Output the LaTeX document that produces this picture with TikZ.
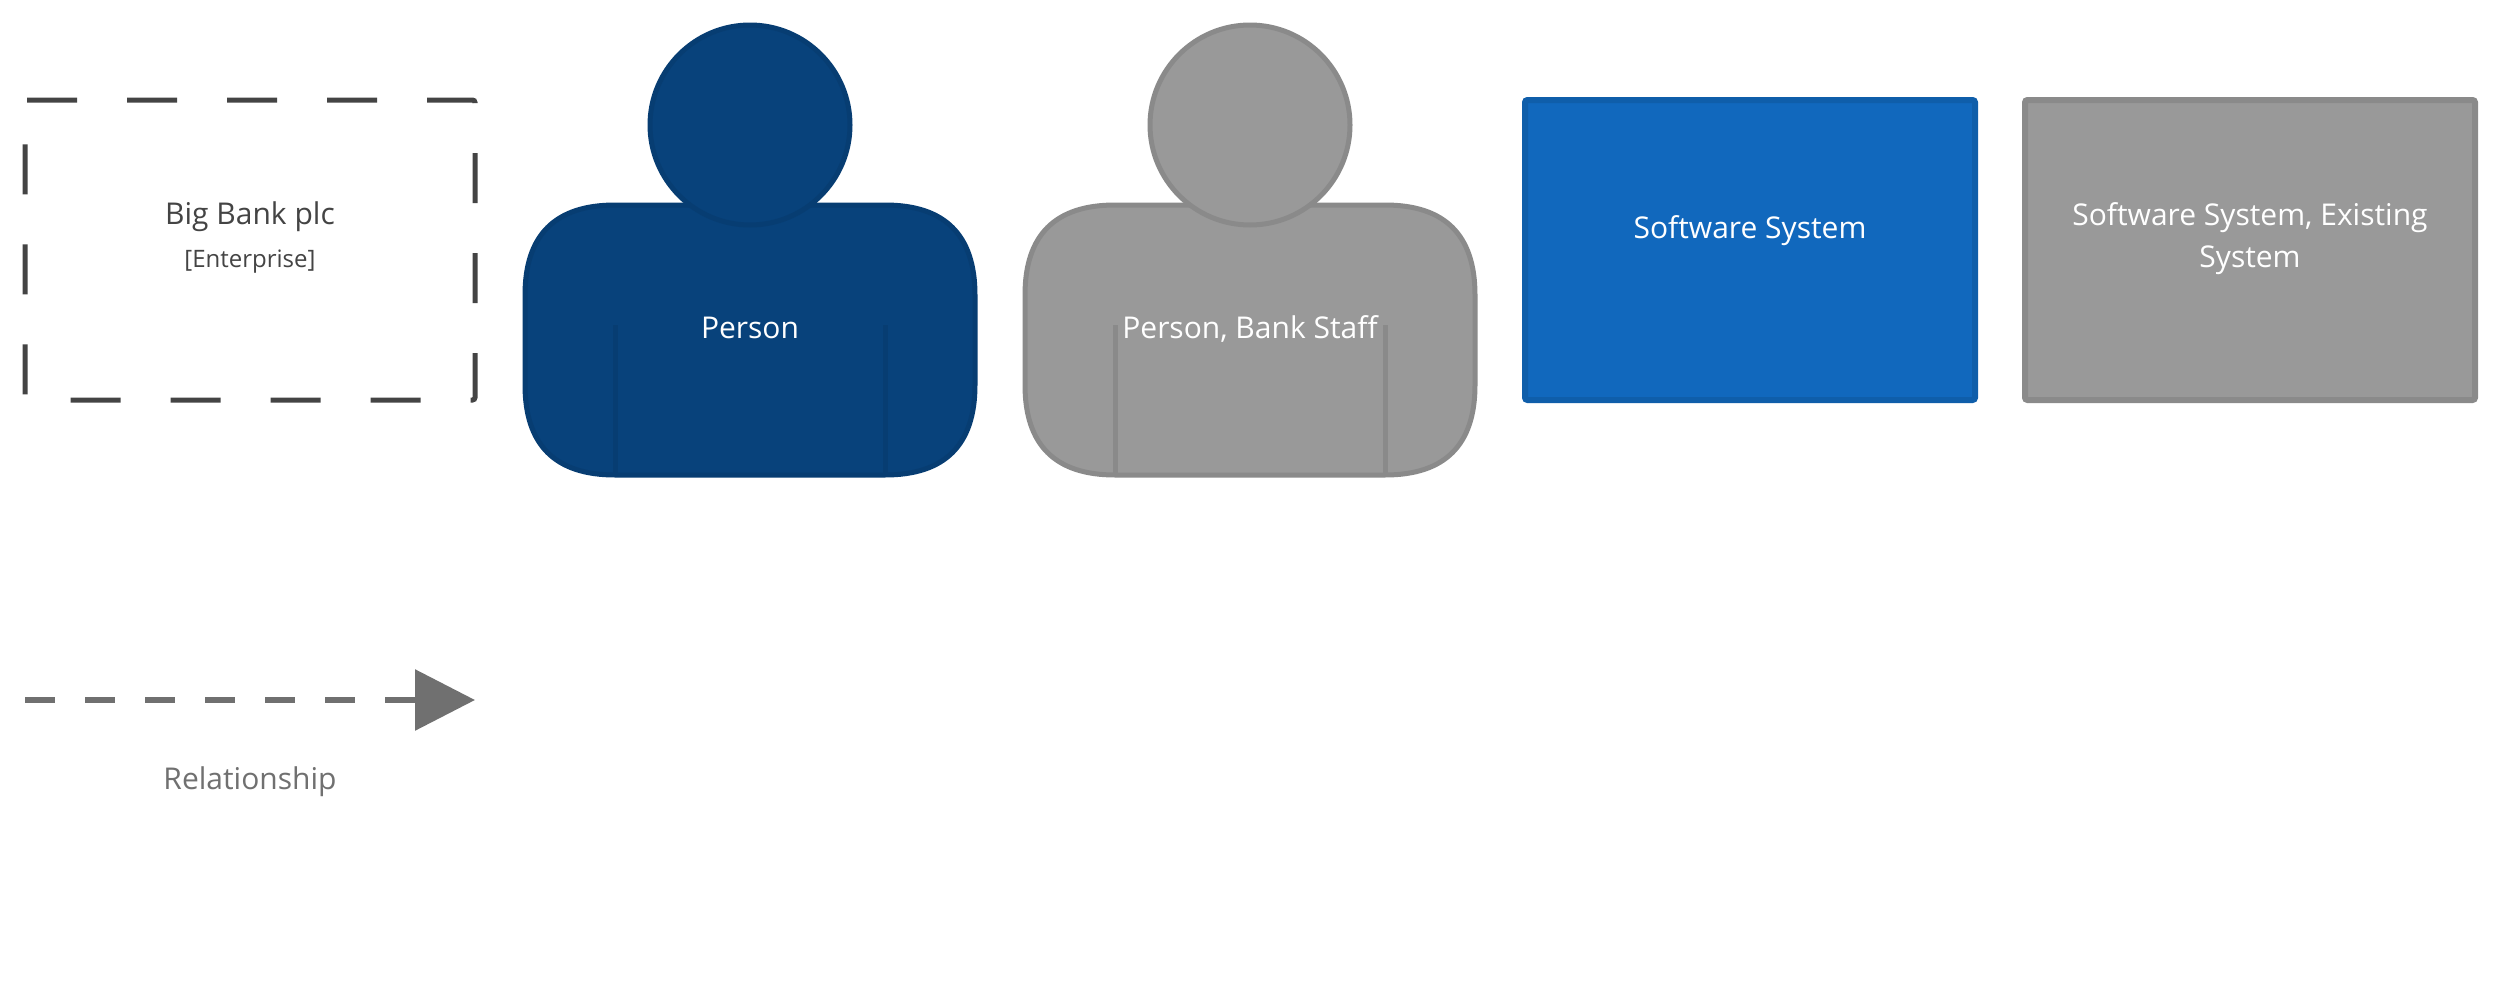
\documentclass[tikz,border=0pt]{standalone}
\usepackage{fontspec}
\setmainfont{Open Sans}
\usetikzlibrary{arrows.meta}
\definecolor{personfill}{HTML}{08427B}
\definecolor{personline}{HTML}{073D72}
\definecolor{staffill}{HTML}{999999}
\definecolor{staffline}{HTML}{8A8A8A}
\definecolor{sysfill}{HTML}{1168BD}
\definecolor{sysline}{HTML}{0F5EAA}
\definecolor{bound}{HTML}{444444}
\definecolor{relcol}{HTML}{707070}
\tikzset{
  x=0.4pt,y=-0.4pt,
  label32/.style={inner sep=0pt,font=\fontsize{12pt}{16.8pt}\selectfont,align=center,anchor=base},
  label24/.style={inner sep=0pt,font=\fontsize{9.6pt}{12pt}\selectfont,align=center,anchor=base},
  boundary/.style={draw=bound,line width=2pt,dash pattern=on 20pt off 20pt,rounded corners=1pt},
  sysbox/.style={rounded corners=1pt,line width=2.4pt},
  personpart/.style={line width=2pt,line join=round},
  relline/.style={draw=relcol,line width=2.4pt,dash pattern=on 12pt off 12pt},
}
\newcommand{\persondraw}[3]{%
  \path[personpart,draw=#3,fill=#2] (#1-225,205+90)
    .. controls (#1-225,205+30) and (#1-195,205) .. (#1-135,205)
    -- (#1+135,205)
    .. controls (#1+195,205) and (#1+225,205+30) .. (#1+225,205+90)
    -- (#1+225,475-90)
    .. controls (#1+225,475-30) and (#1+195,475) .. (#1+135,475)
    -- (#1-135,475)
    .. controls (#1-195,475) and (#1-225,475-30) .. (#1-225,475-90)
    -- cycle;
  \draw[personpart,draw=#3] (#1-135,325) -- (#1-135,475);
  \draw[personpart,draw=#3] (#1+135,325) -- (#1+135,475);
  \path[personpart,draw=#3,fill=#2] (#1,125) circle [radius=100];
}
\begin{document}
\begin{tikzpicture}
\useasboundingbox (0,0) rectangle (2500,1000);
\fill[white] (0,0) rectangle (2500,1000);
% enterprise boundary
\draw[boundary] (27,100) -- (475,100) -- (475,400) -- (25,400) -- (25,100) -- (27,100);
\node[label32,text=bound] (bigbank) at (250,224) {Big Bank plc};
\node[label24,text=bound] (enterprise) at (250,267) {[Enterprise]};
% persons
\persondraw{750}{personfill}{personline}
\node[label32,text=white] (person) at (750,338) {Person};
\persondraw{1250}{staffill}{staffline}
\node[label32,text=white] (staff) at (1250,338) {Person, Bank Staff};
% systems
\path[sysbox,draw=sysline,fill=sysfill] (1525,100) rectangle (1975,400);
\node[label32,text=white] (system) at (1750,238) {Software System};
\path[sysbox,draw=staffline,fill=staffill] (2025,100) rectangle (2475,400);
\node[label32,text=white] (existing1) at (2250,225) {Software System, Existing};
\node[label32,text=white] (existing2) at (2250,267) {System};
% relationship
\coordinate (relstart) at (25,700);
\coordinate (relend) at (475,700);
\draw[relline,-{Triangle[length=24pt,width=24pt,fill=relcol]}] (relstart) -- (relend);
\node[label32,text=relcol] (rellabel) at (250,789) {Relationship};
\end{tikzpicture}
\end{document}
